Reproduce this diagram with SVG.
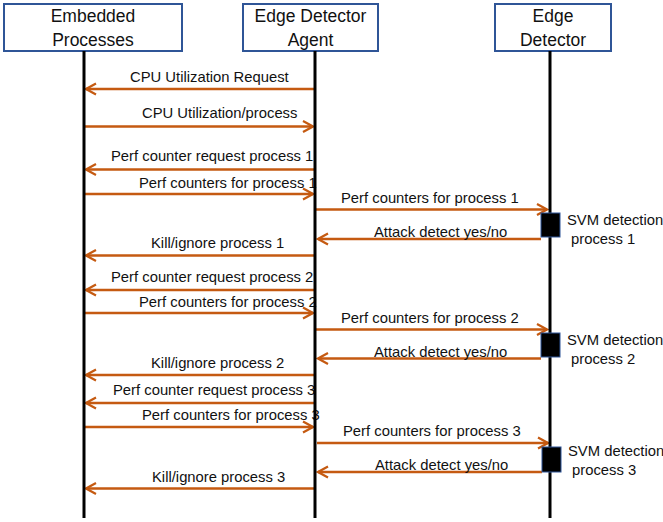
<svg xmlns="http://www.w3.org/2000/svg" width="663" height="522" viewBox="0 0 663 522">
<defs>
<marker id="arr" markerUnits="userSpaceOnUse" markerWidth="14" markerHeight="14" viewBox="-12 -7 14 14" refX="0" refY="0" orient="auto">
<path d="M-10,-5.5 L0,0 L-10,5.5" fill="none" stroke="#C55A11" stroke-width="2.2" stroke-linejoin="miter"/>
</marker>
</defs>
<style>
.hdr{fill:#fff;stroke:#2F5597;stroke-width:2}
.ht{font-family:"Liberation Sans",Arial,sans-serif;font-size:17.5px;fill:#111;text-anchor:middle}
.life{stroke:#000;stroke-width:3}
.msg{stroke:#C55A11;stroke-width:2.3;fill:none;marker-end:url(#arr)}
.lbl{font-family:"Liberation Sans",Arial,sans-serif;font-size:14.8px;fill:#111}
.act{fill:#000;stroke:#2F5597;stroke-width:1}
</style>
<rect width="663" height="522" fill="#fff"/>
<g id="connectors">
<line class="msg" x1="315" y1="89" x2="86" y2="89"/>
<text class="lbl" x="130" y="82">CPU Utilization Request</text>
<line class="msg" x1="84" y1="126.5" x2="313" y2="126.5"/>
<text class="lbl" x="142" y="118">CPU Utilization/process</text>
<line class="msg" x1="315" y1="169.5" x2="86" y2="169.5"/>
<text class="lbl" x="111" y="161">Perf counter request process 1</text>
<line class="msg" x1="84" y1="194" x2="313" y2="194"/>
<text class="lbl" x="139" y="188">Perf counters for process 1</text>
<line class="msg" x1="316" y1="209.5" x2="547" y2="209.5"/>
<text class="lbl" x="341" y="203">Perf counters for process 1</text>
<line class="msg" x1="541" y1="239" x2="318" y2="239"/>
<text class="lbl" x="374" y="237">Attack detect yes/no</text>
<line class="msg" x1="315" y1="255.5" x2="86" y2="255.5"/>
<text class="lbl" x="151" y="248">Kill/ignore process 1</text>
<line class="msg" x1="315" y1="290" x2="86" y2="290"/>
<text class="lbl" x="111" y="282">Perf counter request process 2</text>
<line class="msg" x1="84" y1="313" x2="313" y2="313"/>
<text class="lbl" x="139" y="307">Perf counters for process 2</text>
<line class="msg" x1="316" y1="329.5" x2="547" y2="329.5"/>
<text class="lbl" x="341" y="323">Perf counters for process 2</text>
<line class="msg" x1="541" y1="358.5" x2="318" y2="358.5"/>
<text class="lbl" x="374" y="357">Attack detect yes/no</text>
<line class="msg" x1="315" y1="375" x2="86" y2="375"/>
<text class="lbl" x="151" y="368">Kill/ignore process 2</text>
<line class="msg" x1="315" y1="403" x2="86" y2="403"/>
<text class="lbl" x="113" y="395">Perf counter request process 3</text>
<line class="msg" x1="84" y1="427" x2="313" y2="427"/>
<text class="lbl" x="142" y="420">Perf counters for process 3</text>
<line class="msg" x1="317" y1="443" x2="548" y2="443"/>
<text class="lbl" x="343" y="436">Perf counters for process 3</text>
<line class="msg" x1="542" y1="472" x2="318" y2="472"/>
<text class="lbl" x="375" y="470">Attack detect yes/no</text>
<line class="msg" x1="315" y1="488.5" x2="86" y2="488.5"/>
<text class="lbl" x="152" y="482">Kill/ignore process 3</text>
</g>
<g id="embedded-processes">
<rect class="hdr" x="4" y="4" width="178" height="47"/>
<text class="ht" x="93" y="22">Embedded</text>
<text class="ht" x="93" y="46">Processes</text>
<line class="life" x1="84" y1="51" x2="84" y2="518"/>
</g>
<g id="edge-detector-agent">
<rect class="hdr" x="243" y="4" width="135" height="47"/>
<text class="ht" x="310.5" y="22">Edge Detector</text>
<text class="ht" x="310.5" y="46">Agent</text>
<line class="life" x1="315" y1="51" x2="315" y2="518"/>
</g>
<g id="edge-detector">
<rect class="hdr" x="495" y="4" width="116" height="47"/>
<text class="ht" x="553" y="22">Edge</text>
<text class="ht" x="553" y="46">Detector</text>
<line class="life" x1="550" y1="51" x2="550" y2="518"/>
</g>
<g id="svm-detection-1">
<rect class="act" x="541" y="213" width="19" height="24"/>
<text class="lbl" x="567" y="225">SVM detection</text>
<text class="lbl" x="571" y="244">process 1</text>
</g>
<g id="svm-detection-2">
<rect class="act" x="541" y="333" width="19" height="24"/>
<text class="lbl" x="567" y="345">SVM detection</text>
<text class="lbl" x="571" y="364">process 2</text>
</g>
<g id="svm-detection-3">
<rect class="act" x="542" y="447" width="19" height="25"/>
<text class="lbl" x="568" y="456">SVM detection</text>
<text class="lbl" x="572" y="475">process 3</text>
</g>
</svg>
